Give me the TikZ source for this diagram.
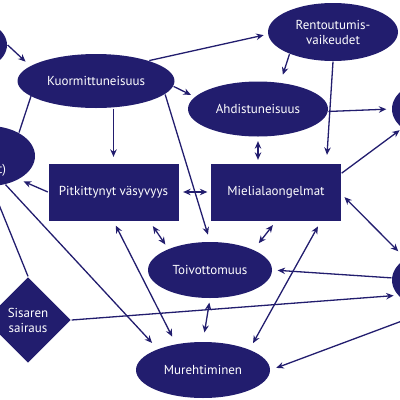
\documentclass[tikz,border=0pt]{standalone}
\usepackage{fontspec}
\setmainfont{PT Sans}
\usetikzlibrary{arrows.meta,shapes.geometric}
\definecolor{navy}{HTML}{221D6E}

\begin{document}
\begin{tikzpicture}
  [x=1pt,y=-1pt,color=navy,line width=1.3pt,>={Stealth[length=7.5pt,width=6.5pt]},
   factor/.style={ellipse,fill=navy,text=white,inner sep=0pt,minimum height=56pt,align=center,font=\fontsize{13}{15}\selectfont},
   problem/.style={rectangle,fill=navy,text=white,minimum width=130pt,minimum height=57pt,font=\fontsize{13}{15}\selectfont},
   cause/.style={diamond,aspect=1,fill=navy,text=white,inner sep=0pt,minimum size=86pt,align=center,font=\fontsize{13}{15}\selectfont}]
  \useasboundingbox (0,0) rectangle (400,400);
  \node[factor,minimum width=90pt] (tl) at (-38,45) {};
  \node[factor,minimum width=157pt,minimum height=54pt] (kuorm) at (96,81) {Kuormittuneisuus};
  \node[factor,minimum width=130pt,minimum height=58pt] (rento) at (333,32) {Rentoutumis-\\vaikeudet};
  \node[factor,minimum width=140pt,minimum height=55pt] (ahdist) at (258,109) {Ahdistuneisuus};
  \node[factor,minimum width=80pt] (rtop) at (432,109) {};
  \node[factor,minimum width=92pt,minimum height=60pt,text width=34pt,align=right] (left) at (-11,156) {\mbox{}\\[22pt]t)};
  \node[problem] (pitk) at (113.5,192) {Pitkittynyt väsyvyys};
  \node[problem] (miel) at (276,192) {Mielialaongelmat};
  \node[factor,minimum width=80pt] (rlow) at (432,280) {};
  \node[factor,minimum width=124pt] (toivo) at (210,270) {Toivottomuus};
  \node[cause] (sisar) at (28,320) {Sisaren\\sairaus};
  \node[factor,minimum width=134pt] (mureh) at (203,370) {Murehtiminen};
  \coordinate (rbot) at (410,318);
  \draw [->,shorten >=6pt] (tl.east) -- (kuorm.167);
  \draw [->,shorten >=4pt] (kuorm.21) -- (rento.182);
  \draw [->,shorten >=4pt] (kuorm.-4) -- (ahdist.169);
  \draw [->,shorten >=6pt] (kuorm.south -| pitk.north) -- (pitk.north);
  \draw [->,shorten >=7pt] (kuorm.-11) -- (toivo.north);
  \draw [->,shorten >=7pt] (left.38) -- (kuorm.159);
  \draw [->,shorten >=5pt] (pitk.west) -- (left.-38);
  \draw [<->,shorten <=4pt,shorten >=3pt] (pitk.east) -- (miel.west);
  \draw [<->,shorten <=6pt,shorten >=5pt] (pitk.-39) -- (toivo.153);
  \draw [<->,shorten <=5pt,shorten >=8pt] (pitk.south) -- (mureh.136);
  \draw [->,shorten >=8pt] (left.-60) -- (mureh.155);
  \draw (left.-85) -- (sisar.north);
  \draw [->,shorten >=4pt] (sisar.east) -- (rlow.204);
  \draw [->,shorten >=5pt] (rlow.177) -- (toivo.east);
  \draw [->,shorten >=6pt] (rbot) -- (mureh.east);
  \draw [<->,shorten <=4pt,shorten >=10pt] (miel.-2) -- (rlow.141);
  \draw [->,shorten >=3pt] (miel.16) -- (rtop.213);
  \draw [->,shorten >=5pt] (ahdist.-2) -- (rtop.west);
  \draw [->,shorten >=8pt] (rento.207) -- (ahdist.50);
  \draw [->,shorten >=8pt] (rento.south) -- (miel.30);
  \draw [<->,shorten <=4pt,shorten >=3pt] (ahdist.south) -- (ahdist.south |- miel.north);
  \draw [<->,shorten <=5pt,shorten >=8pt] (miel.south) -- (toivo.25);
  \draw [<->,shorten <=6pt,shorten >=7pt] (miel.-33) -- (mureh.24);
  \draw [<->,shorten <=4pt,shorten >=9pt] (toivo.south) -- (mureh.north);
\end{tikzpicture}
\end{document}
